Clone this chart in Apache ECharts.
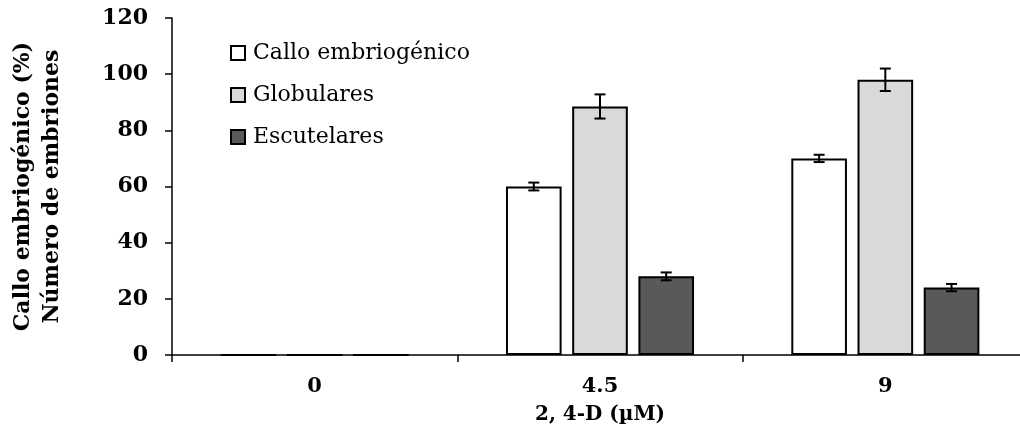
<!DOCTYPE html>
<html>
<head>
<meta charset="utf-8">
<script src="https://cdn.jsdelivr.net/npm/echarts@6/dist/echarts.min.js"></script>
<style>
  html, body { margin: 0; padding: 0; background: #fff; }
  #chart { width: 1020px; height: 437px; }
</style>
</head>
<body>
<div id="chart"></div>
<script>
// 2,4-D concentrations (µM)
const categories = ['0', '4.5', '9'];
const seriesNames = ['Callo embriogénico', 'Globulares', 'Escutelares'];
// Mean values per concentration
const calloValues = [0, 60, 70];
const globularValues = [0, 88.5, 98];
const escutelarValues = [0, 28, 24];
// Standard errors
const calloErrors = [0, 1.4, 1.3];
const globularErrors = [0, 4.3, 4.0];
const escutelarErrors = [0, 1.4, 1.3];
const yTicks = [0, 20, 40, 60, 80, 100, 120];

const FONT = 'DejaVu Serif';
const colors = ['#ffffff', '#d9d9d9', '#595959'];
const BAR_FRAC = 0.195;
const GAP_FRAC = 0.19;

const valueSets = [calloValues, globularValues, escutelarValues];
const errorSets = [calloErrors, globularErrors, escutelarErrors];

const chart = echarts.init(document.getElementById('chart'), null, { renderer: 'canvas' });

const barSeries = seriesNames.map((name, i) => ({
  name: name,
  type: 'bar',
  data: valueSets[i],
  barWidth: (BAR_FRAC * 100) + '%',
  barGap: (GAP_FRAC * 100) + '%',
  itemStyle: { color: colors[i], borderColor: '#000', borderWidth: 2 },
  emphasis: { disabled: true },
  z: 2
}));

// Error bars drawn on top of each bar, offset to the bar's slot
const errorSeries = seriesNames.map((name, i) => ({
  type: 'custom',
  name: name + ' error',
  z: 3,
  silent: true,
  data: categories.map((c, k) => [k, valueSets[i][k], errorSets[i][k]]),
  renderItem: function (params, api) {
    const k = api.value(0);
    const v = api.value(1);
    const e = api.value(2);
    if (!e) return null;
    const band = api.size([1, 0])[0];
    const offset = (i - 1) * band * BAR_FRAC * (1 + GAP_FRAC);
    const hi = api.coord([k, v + e]);
    const lo = api.coord([k, v - e]);
    const x = hi[0] + offset;
    const cap = 5.5;
    const style = { stroke: '#000', lineWidth: 2 };
    return {
      type: 'group',
      children: [
        { type: 'line', shape: { x1: x, y1: hi[1], x2: x, y2: lo[1] }, style: style },
        { type: 'line', shape: { x1: x - cap, y1: hi[1], x2: x + cap, y2: hi[1] }, style: style },
        { type: 'line', shape: { x1: x - cap, y1: lo[1], x2: x + cap, y2: lo[1] }, style: style }
      ]
    };
  }
}));

const option = {
  backgroundColor: '#fff',
  animation: false,
  grid: { left: 172, right: -8, top: 18, bottom: 82, containLabel: false, outerBoundsMode: 'none' },
  legend: {
    data: seriesNames,
    orient: 'vertical',
    left: 225,
    top: 37,
    itemWidth: 14,
    itemHeight: 14,
    itemGap: 20,
    icon: 'rect',
    selectedMode: false,
    textStyle: { fontFamily: FONT, fontSize: 22, color: '#000', lineHeight: 22, padding: [0, 0, 0, 3] }
  },
  xAxis: {
    type: 'category',
    data: categories,
    name: '2, 4-D (µM)',
    nameLocation: 'middle',
    nameGap: 50,
    nameTextStyle: { fontFamily: FONT, fontSize: 20, fontWeight: 'bold', color: '#000' },
    axisLine: { lineStyle: { color: '#000', width: 1.5 } },
    axisTick: { show: true, length: 7, lineStyle: { color: '#000', width: 1.5 } },
    axisLabel: { fontFamily: FONT, fontSize: 21, fontWeight: 'bold', color: '#000', margin: 21 }
  },
  yAxis: {
    type: 'value',
    min: yTicks[0],
    max: yTicks[yTicks.length - 1],
    interval: yTicks[1] - yTicks[0],
    name: 'Callo embriogénico (%)\nNúmero de embriones',
    nameLocation: 'middle',
    nameRotate: 90,
    nameGap: 105,
    nameTextStyle: { fontFamily: FONT, fontSize: 22, fontWeight: 'bold', color: '#000', lineHeight: 29 },
    axisLine: { show: true, lineStyle: { color: '#000', width: 1.5 } },
    axisTick: { show: true, length: 7, lineStyle: { color: '#000', width: 1.5 } },
    splitLine: { show: false },
    axisLabel: { fontFamily: FONT, fontSize: 22, fontWeight: 'bold', color: '#000', margin: 24 }
  },
  series: barSeries.concat(errorSeries)
};

chart.setOption(option);
</script>
</body>
</html>
